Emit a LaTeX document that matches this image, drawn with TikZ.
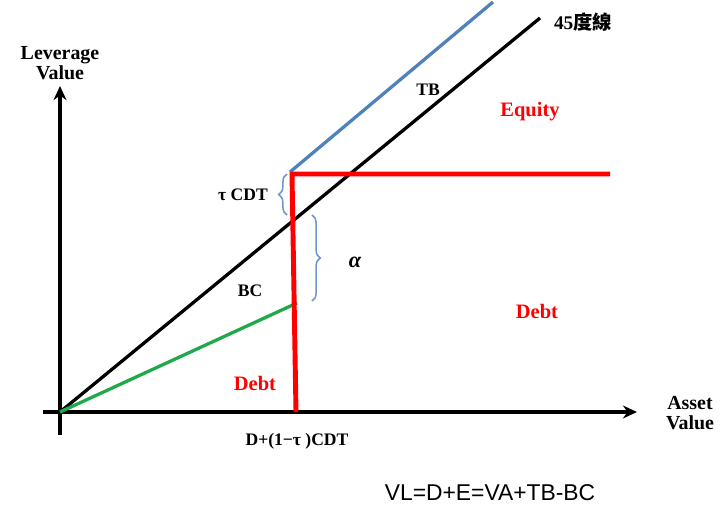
\documentclass[tikz,border=0pt]{standalone}
\usepackage{fontspec}
\setmainfont{Liberation Serif}
\setsansfont{Liberation Sans}
\newfontfamily\cjk{Noto Sans CJK TC}
\usepackage{xcolor}
\usetikzlibrary{arrows.meta, positioning, decorations.pathreplacing}

\definecolor{tbblue}{RGB}{79,129,189}
\definecolor{bcgreen}{RGB}{30,170,75}
\definecolor{bracecol}{RGB}{110,150,205}

\begin{document}
\begin{tikzpicture}[x=0.03cm, y=-0.03cm, every node/.style={font=\bfseries\fontsize{15}{16}\selectfont},
    axis/.style={line width=2.6pt, -{Stealth[length=12pt, width=11pt]}},
    redlab/.style={text=red, font=\bfseries\fontsize{17.5}{18}\selectfont},
    gbrace/.style={draw=bracecol, line width=1.3pt, decorate, decoration={brace, amplitude=7pt}}]
    \useasboundingbox (0,0) rectangle (724,505);

    % axes
    \coordinate (O) at (60,412);
    \draw[axis] (60,435) -- (60,86) node[above=1pt, align=center, font=\bfseries\fontsize{17}{17}\selectfont] (ylab) {Leverage\\Value};
    \draw[axis] (43,412) -- (637,412);
    \node[align=center, font=\bfseries\fontsize{17}{17}\selectfont] (xlab) at (690,413) {Asset\\Value};

    % lines
    \draw[line width=2.8pt, black] (O) -- (540,18) coordinate (L45);
    \draw[line width=2.8pt, tbblue] (290,172) -- (493,2);
    \draw[line width=2.8pt, bcgreen] (O) -- (297,303);
    \draw[line width=4.2pt, red] (296,412) -- (292,174) -- (610,174);

    % braces
    \draw[gbrace] (287,215) -- (287,174);
    \draw[gbrace] (312,215) -- (312,301);

    % labels
    \node (tcdt) at (243,195) {τ CDT};
    \node[font=\bfseries\itshape\fontsize{19}{19}\selectfont] (alpha) at (355,262) {α};
    \node (tb) at (428,90) {TB};
    \node (bc) at (250,291) {BC};
    \node[redlab] (equity) at (530,112) {Equity};
    \node[redlab] (debt1) at (537,311) {Debt};
    \node[redlab] (debt2) at (255,383) {Debt};
    \node[font=\bfseries\fontsize{16.5}{17}\selectfont] (deg) at (583,22) {45\cjk 度線};
    \node (dcdt) at (297,441) {D+(1−τ )CDT};
    \node[font=\sffamily\fontsize{19.5}{20}\selectfont] (vl) at (490,493) {VL=D+E=VA+TB-BC};
\end{tikzpicture}
\end{document}
